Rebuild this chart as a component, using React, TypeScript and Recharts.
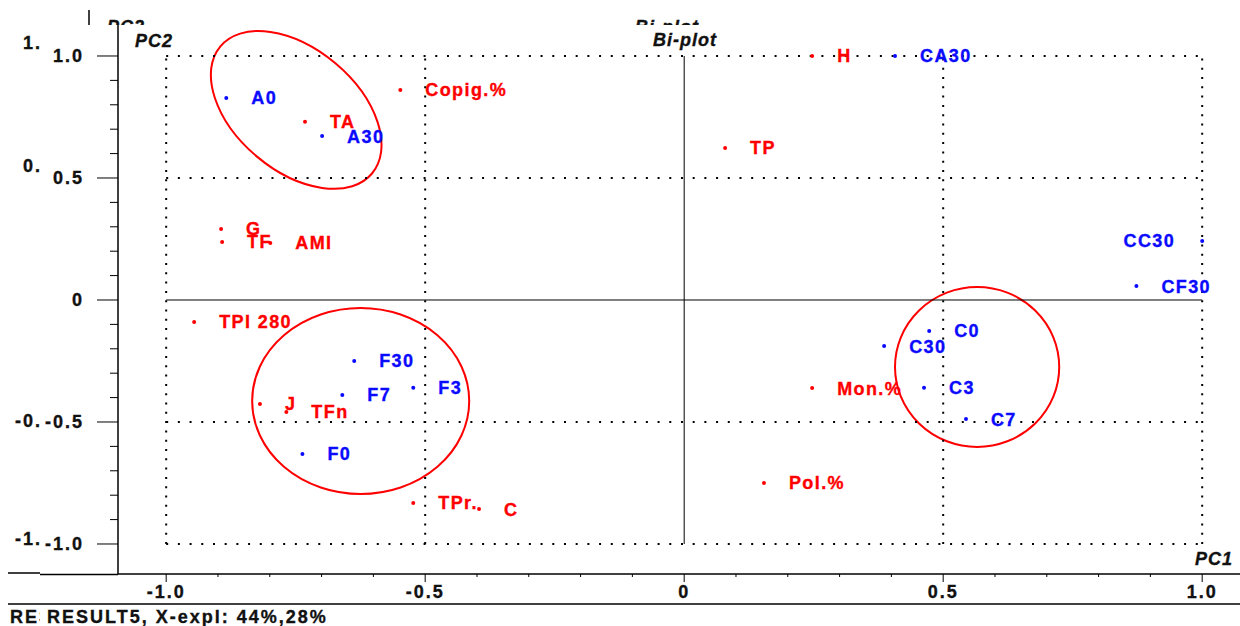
import React from "react";
import {
  ScatterChart,
  Scatter,
  XAxis,
  YAxis,
  ReferenceLine,
  ReferenceArea,
} from "recharts";

// variables (red) — loadings
const varNames = ["Copig.%", "TA", "H", "TP", "G", "TF", "AMI", "TPI 280", "J", "TFn", "TPr.", "C", "Mon.%", "Pol.%"];
const varPC1 = [-0.548, -0.732, 0.247, 0.079, -0.894, -0.892, -0.799, -0.946, -0.819, -0.768, -0.523, -0.396, 0.247, 0.154];
const varPC2 = [0.861, 0.73, 1.0, 0.623, 0.291, 0.238, 0.234, -0.09, -0.426, -0.459, -0.832, -0.857, -0.361, -0.75];

// objects (blue) — scores
const objNames = ["A0", "A30", "CA30", "CC30", "CF30", "F30", "F7", "F3", "F0", "C0", "C30", "C3", "C7"];
const objPC1 = [-0.884, -0.699, 0.407, 1.0, 0.873, -0.637, -0.66, -0.523, -0.737, 0.473, 0.386, 0.463, 0.544];
const objPC2 = [0.828, 0.672, 1.0, 0.242, 0.057, -0.25, -0.389, -0.36, -0.631, -0.127, -0.189, -0.36, -0.488];

// labels drawn on the left side of their point
const leftLabels = ["CC30"];

// group ellipses (centre, half-widths in data units, tilt in degrees)
const groupCx = [-0.749, -0.6245, 0.5655];
const groupCy = [0.779, -0.414, -0.2745];
const groupRx = [0.191, 0.2095, 0.1585];
const groupRy = [0.25, 0.381, 0.3275];
const groupTilt = [40, 0, 0];

const xTicks = [-1, -0.9, -0.8, -0.7, -0.6, -0.5, -0.4, -0.3, -0.2, -0.1, 0, 0.1, 0.2, 0.3, 0.4, 0.5, 0.6, 0.7, 0.8, 0.9, 1];
const yTicks = [-1, -0.9, -0.8, -0.7, -0.6, -0.5, -0.4, -0.3, -0.2, -0.1, 0, 0.1, 0.2, 0.3, 0.4, 0.5, 0.6, 0.7, 0.8, 0.9, 1];
const majorTicks = [-1, -0.5, 0, 0.5, 1];
const majorLabels = ["-1.0", "-0.5", "0", "0.5", "1.0"];
const gridLevels = [-1, -0.5, 0.5, 1];

const RED = "#ff0000";
const BLUE = "#0a0aff";
const INK = "#111";
const FONT = "'Liberation Sans', Arial, sans-serif";

const varData = varNames.map((name, i) => ({ name, x: varPC1[i], y: varPC2[i] }));
const objData = objNames.map((name, i) => ({ name, x: objPC1[i], y: objPC2[i] }));

const heavy = (color: string) => ({
  fontFamily: FONT,
  fontWeight: "bold" as const,
  fill: color,
  stroke: color,
  strokeWidth: 0.35,
});

function majorIndex(v: number) {
  return majorTicks.findIndex((m) => Math.abs(m - v) < 1e-6);
}

function XTick({ x, y, payload }: any) {
  const idx = majorIndex(payload.value);
  if (idx < 0) {
    return <line x1={x} x2={x} y1={y} y2={y + 3} stroke="#000" />;
  }
  return (
    <g>
      <line x1={x} x2={x} y1={y} y2={y + 8} stroke="#000" />
      <text x={x} y={y + 24} textAnchor="middle" fontSize={18} letterSpacing={2} {...heavy(INK)}>
        {majorLabels[idx]}
      </text>
    </g>
  );
}

function YTick({ x, y, payload }: any) {
  const idx = majorIndex(payload.value);
  if (idx < 0) {
    return <line x1={x - 8} x2={x} y1={y} y2={y} stroke="#000" />;
  }
  return (
    <g>
      <line x1={x - 21} x2={x} y1={y} y2={y} stroke="#000" />
      <text x={x - 34} y={y + 6.5} textAnchor="end" fontSize={18} letterSpacing={2} {...heavy(INK)}>
        {majorLabels[idx]}
      </text>
    </g>
  );
}

function pointShape(color: string) {
  return (props: any) => {
    const { cx, cy, payload } = props;
    const left = leftLabels.includes(payload.name);
    return (
      <g>
        <circle cx={cx} cy={cy} r={2} fill={color} />
        <text
          x={left ? cx - 27 : cx + 25}
          y={cy}
          dy={6.5}
          textAnchor={left ? "end" : "start"}
          fontSize={18}
          letterSpacing={1.4}
          {...heavy(color)}
        >
          {payload.name}
        </text>
      </g>
    );
  };
}

function ellipseShape(tilt: number) {
  return (props: any) => {
    const { x, y, width, height } = props;
    const cx = x + width / 2;
    const cy = y + height / 2;
    return (
      <ellipse
        cx={cx}
        cy={cy}
        rx={Math.abs(width) / 2}
        ry={Math.abs(height) / 2}
        transform={`rotate(${tilt} ${cx} ${cy})`}
        fill="none"
        stroke={RED}
        strokeWidth={2}
      />
    );
  };
}

export default function App() {
  return (
    <div style={{ position: "absolute", left: 0, top: 0, width: 1240, height: 626, background: "#fff", fontFamily: FONT }}>
      <ScatterChart width={1240} height={626} margin={{ top: 25, right: 0, bottom: 0, left: 0 }}>
        <XAxis
          type="number"
          dataKey="x"
          domain={[-1.093, 1.073]}
          allowDataOverflow
          ticks={xTicks}
          interval={0}
          height={52}
          tickSize={0}
          tickMargin={0}
          tickLine={false}
          axisLine={{ stroke: "#000", strokeWidth: 1.5 }}
          tick={<XTick />}
        />
        <YAxis
          type="number"
          dataKey="y"
          domain={[-1.123, 1.127]}
          allowDataOverflow
          ticks={yTicks}
          interval={0}
          width={118}
          tickSize={0}
          tickMargin={0}
          tickLine={false}
          axisLine={{ stroke: "#000", strokeWidth: 1.5 }}
          tick={<YTick />}
        />

        {gridLevels.map((v) => (
          <ReferenceLine
            key={`v${v}`}
            segment={[{ x: v, y: -1 }, { x: v, y: 1 }]}
            stroke="#000"
            strokeWidth={2}
            strokeDasharray="2 7.3"
          />
        ))}
        {gridLevels.map((v) => (
          <ReferenceLine
            key={`h${v}`}
            segment={[{ x: -1, y: v }, { x: 1, y: v }]}
            stroke="#000"
            strokeWidth={2}
            strokeDasharray="2 9.7"
          />
        ))}
        <ReferenceLine segment={[{ x: 0, y: -1 }, { x: 0, y: 1 }]} stroke="#000" strokeWidth={1} />
        <ReferenceLine segment={[{ x: -1, y: 0 }, { x: 1, y: 0 }]} stroke="#000" strokeWidth={1} />

        {groupCx.map((cx, i) => (
          <ReferenceArea
            key={`g${i}`}
            x1={cx - groupRx[i]}
            x2={cx + groupRx[i]}
            y1={groupCy[i] - groupRy[i]}
            y2={groupCy[i] + groupRy[i]}
            shape={ellipseShape(groupTilt[i])}
          />
        ))}

        <Scatter data={varData} fill={RED} shape={pointShape(RED)} isAnimationActive={false} />
        <Scatter data={objData} fill={BLUE} shape={pointShape(BLUE)} isAnimationActive={false} />
      </ScatterChart>

      <svg width={1240} height={626} style={{ position: "absolute", left: 0, top: 0, pointerEvents: "none" }}>
        <defs>
          <clipPath id="ghostTop">
            <rect x={0} y={0} width={1240} height={25} />
          </clipPath>
          <clipPath id="ghostLeft">
            <rect x={0} y={0} width={40} height={626} />
          </clipPath>
        </defs>

        {/* remains of an older copy of the plot behind this one */}
        <g clipPath="url(#ghostTop)" fontStyle="italic" fontSize={18} {...heavy(INK)}>
          <line x1={89} x2={89} y1={10} y2={25} stroke="#000" strokeWidth={1.5} />
          <text x={107} y={33} letterSpacing={1}>PC2</text>
          <text x={635} y={33} letterSpacing={1}>Bi-plot</text>
        </g>
        <g clipPath="url(#ghostLeft)" fontSize={18} letterSpacing={2} {...heavy(INK)}>
          <text x={54} y={49} textAnchor="end">1.0</text>
          <text x={54} y={172} textAnchor="end">0.5</text>
          <text x={54} y={427} textAnchor="end">-0.5</text>
          <text x={54} y={545} textAnchor="end">-1.0</text>
          <text x={10} y={623}>RESULT5</text>
          <line x1={8} x2={40} y1={573} y2={573} stroke="#000" strokeWidth={1.5} />
        </g>

        <line x1={40} x2={118} y1={574.5} y2={574.5} stroke="#000" strokeWidth={1.5} />
        <line x1={8} x2={1240} y1={604} y2={604} stroke="#000" strokeWidth={1.5} />

        <text x={135} y={47} fontStyle="italic" fontSize={18} letterSpacing={1} {...heavy(INK)}>
          PC2
        </text>
        <text x={653} y={46} fontStyle="italic" fontSize={18} letterSpacing={1} {...heavy(INK)}>
          Bi-plot
        </text>
        <text x={1233} y={565} textAnchor="end" fontStyle="italic" fontSize={18} letterSpacing={1} {...heavy(INK)}>
          PC1
        </text>
        <text x={47} y={623} fontSize={18} letterSpacing={2} {...heavy(INK)}>
          RESULT5, X-expl: 44%,28%
        </text>
      </svg>
    </div>
  );
}
